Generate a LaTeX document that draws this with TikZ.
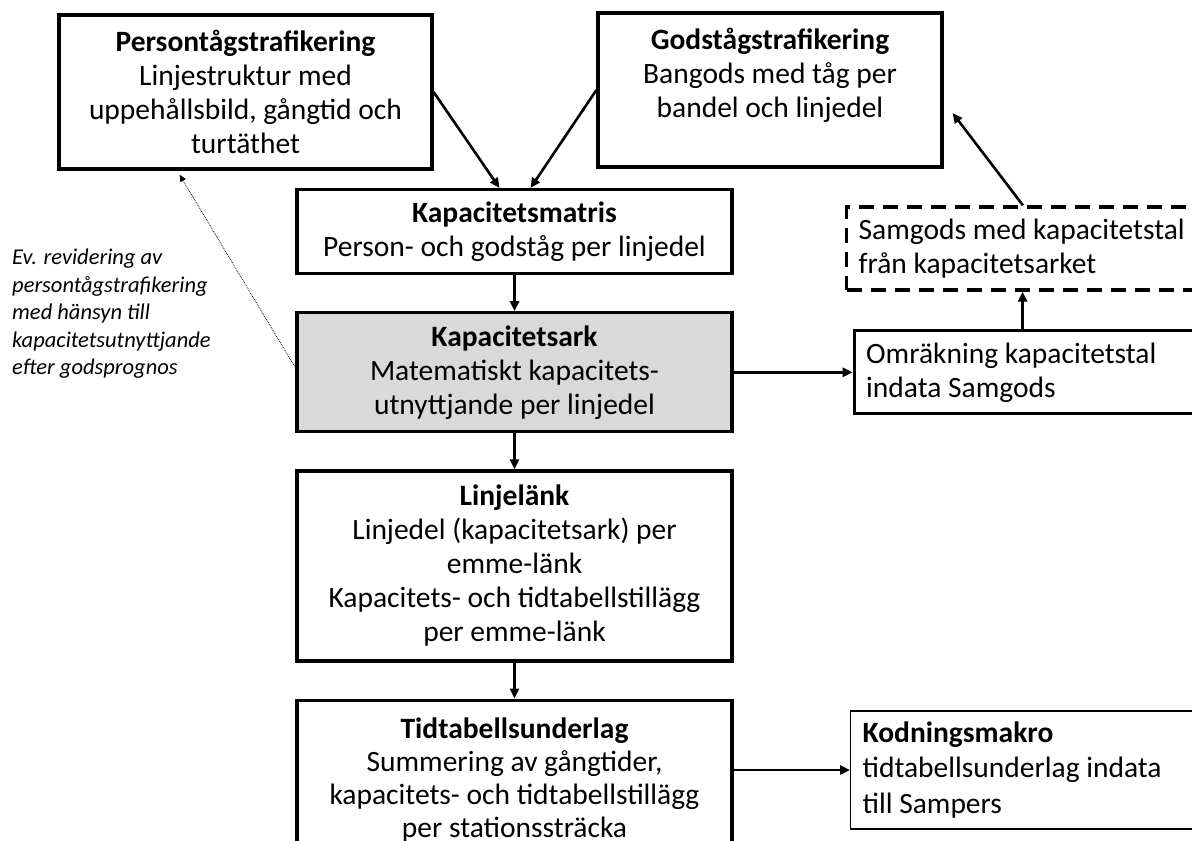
\documentclass[tikz,border=0pt]{standalone}
\usepackage{fontspec}
\setmainfont{Carlito}
\usetikzlibrary{positioning, arrows.meta}
\definecolor{arkgray}{RGB}{217,217,217}

\begin{document}
\begin{tikzpicture}[x=1pt, y=-1pt,
      node distance=36pt,
      box/.style={rectangle, draw, line width=3.2pt, text width=427pt,
      inner xsep=4pt, align=flush center, font=\fontsize{29.5}{34}\selectfont},
      sidebox/.style={rectangle, draw, line width=3.2pt, text width=380pt,
      inner xsep=12pt, align=flush left, anchor=west, minimum height=83pt,
      font=\fontsize{29.5}{34}\selectfont},
      line/.style={draw, -{Triangle[length=10pt, width=9pt]}, line width=2.6pt},
      dotline/.style={draw, densely dotted, line width=0.8pt,
      -{Triangle[length=7pt, width=6pt]}},
      note/.style={align=flush left, inner sep=0pt, anchor=north west,
      font=\fontsize{22.5}{27.5}\selectfont\itshape}
    ]
    \useasboundingbox (0,0) rectangle (1192,841);
    \clip (0,0) rectangle (1192,841);

    \node [box, text width=365pt, minimum height=154pt] (persontag) at (245.5,92)
      {\textbf{Persontågstrafikering}\\Linjestruktur med\\uppehållsbild, gångtid och\\turtäthet};
    \node [box, text width=336pt, minimum height=154pt] (godstag) at (770,90)
      {\textbf{Godstågstrafikering}\\Bangods med tåg per\\bandel och linjedel\\ \mbox{}};
    \node [box, anchor=north, minimum height=84pt] (kapmatris) at (514.5,188)
      {\textbf{Kapacitetsmatris}\\Person- och godståg per linjedel};
    \node [box, fill=arkgray, minimum height=119pt, below=of kapmatris] (kapark)
      {\textbf{Kapacitetsark}\\Matematiskt kapacitets-\\utnyttjande per linjedel};
    \node [box, minimum height=190pt, below=of kapark] (linjelank)
      {\textbf{Linjelänk}\\Linjedel (kapacitetsark) per\\emme-länk\\Kapacitets- och tidtabellstillägg\\per emme-länk};
    \node [box, minimum height=160pt, below=of linjelank,
      font=\fontsize{29.5}{33}\selectfont] (tidtabell)
      {\textbf{Tidtabellsunderlag}\\Summering av gångtider,\\kapacitets- och tidtabellstillägg\\per stationssträcka};

    \node [sidebox, right=119pt of kapark] (omrakning)
      {Omräkning kapacitetstal\\indata Samgods};
    \node [sidebox, dash pattern=on 15pt off 9pt] (samgods) at (845,248.5)
      {Samgods med kapacitetstal\\från kapacitetsarket};
    \node [sidebox, line width=1.3pt, minimum height=118pt,
      font=\fontsize{29.5}{35.5}\selectfont] (kodning) at (850,770)
      {\textbf{Kodningsmakro}\\tidtabellsunderlag indata\\till Sampers};

    \node [note] (revidering) at (12,249)
      {Ev. revidering av\\persontågstrafikering\\med hänsyn till\\kapacitetsutnyttjande\\efter godsprognos};

    \coordinate (omtop) at ([xshift=170pt]omrakning.north west);
    \coordinate (gtip) at ([shift={(9,23)}]godstag.east);

    \path [line] (persontag.east) -- ([xshift=-15pt]kapmatris.north);
    \path [line] (godstag.west) -- ([xshift=16pt]kapmatris.north);
    \path [line] (kapmatris) -- (kapark);
    \path [line] (kapark) -- (linjelank);
    \path [line] (linjelank.south) -- (linjelank.south |- tidtabell.north);
    \path [line] (kapark.east) -- (omrakning.west);
    \path [line] (omtop) -- (omtop |- samgods.south);
    \path [line] ([xshift=178pt]samgods.north west) -- (gtip);
    \path [line] (tidtabell.east |- kodning.west) -- (kodning.west);
    \path [dotline] ([yshift=4.5pt]kapark.west) -- ([xshift=-66pt, yshift=-4pt]persontag.south);
  \end{tikzpicture}
\end{document}
